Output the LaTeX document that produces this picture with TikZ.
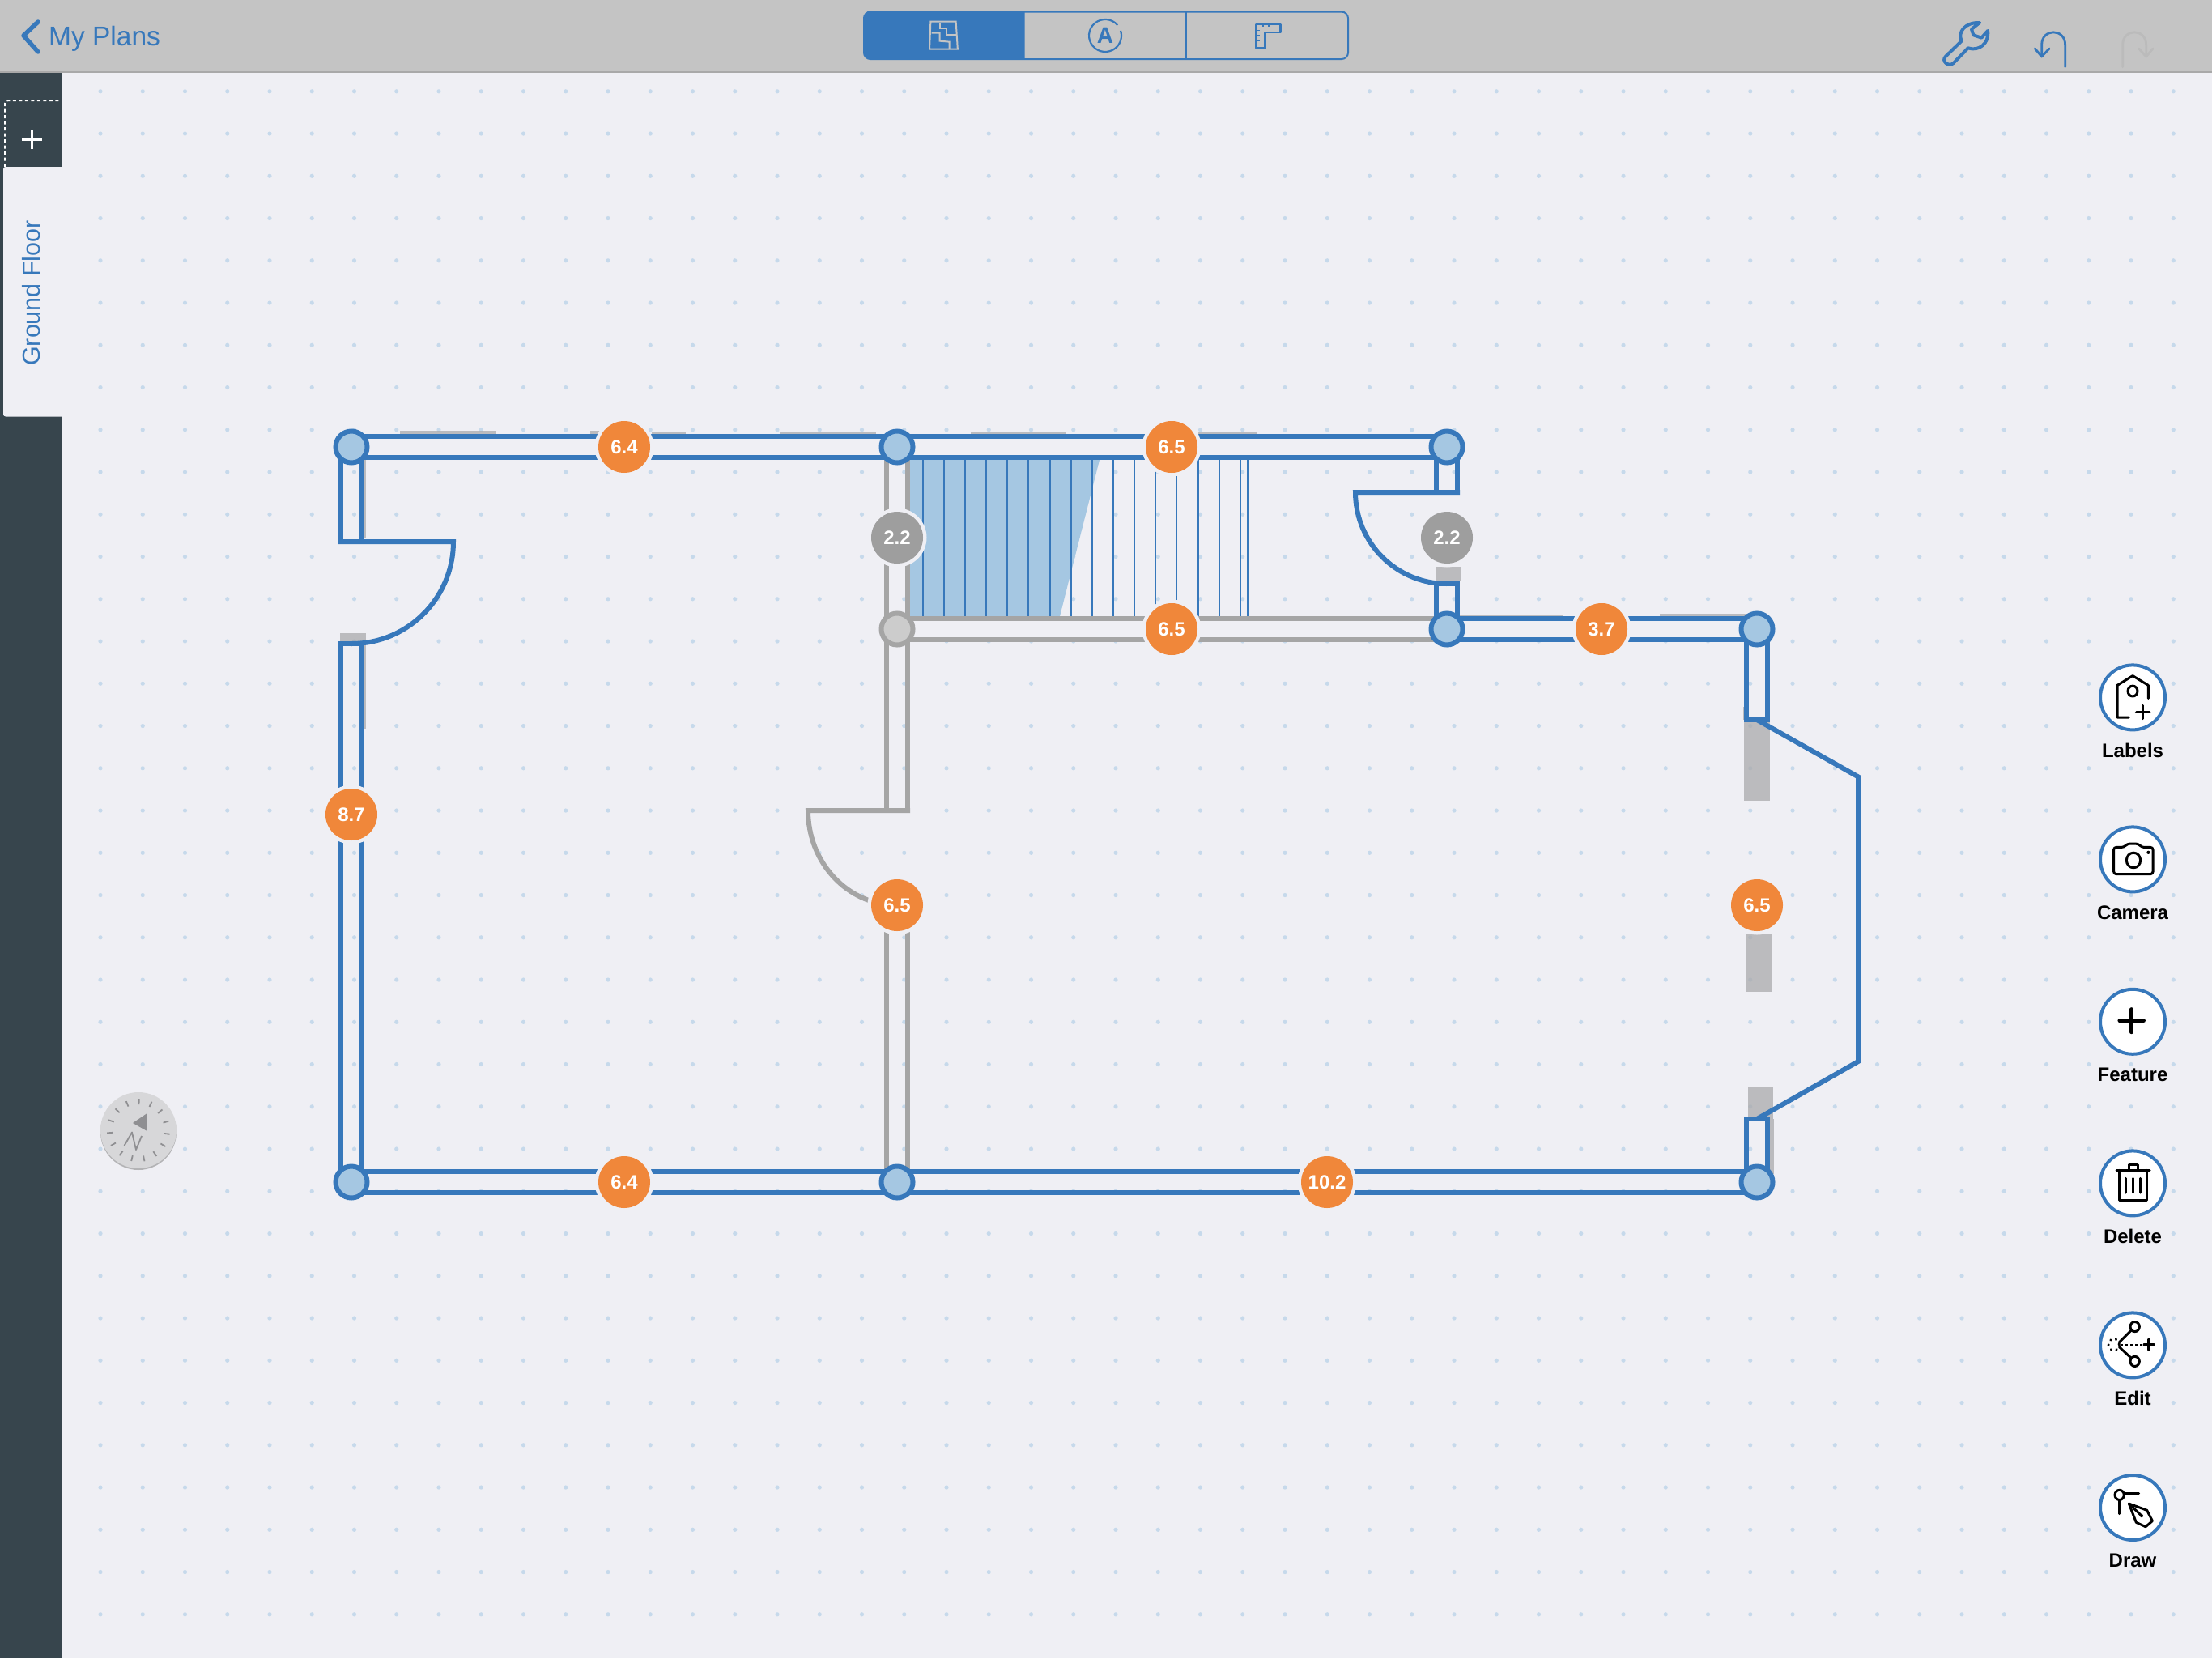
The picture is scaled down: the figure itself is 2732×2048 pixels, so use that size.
\documentclass[tikz,border=0pt]{standalone}
\usepackage{fontspec}
\setmainfont{Liberation Sans}
\definecolor{bgc}{HTML}{EFEFF4}
\definecolor{barc}{HTML}{C4C4C4}
\definecolor{barline}{HTML}{A9A9A9}
\definecolor{sidec}{HTML}{37454D}
\definecolor{dotc}{HTML}{C6D9EB}
\definecolor{bluec}{HTML}{3778BB}
\definecolor{lblue}{HTML}{A5C7E2}
\definecolor{wallg}{HTML}{A5A5A5}
\definecolor{jointg}{HTML}{CCCCCC}
\definecolor{blockg}{HTML}{AAAAAC}
\definecolor{orangec}{HTML}{F0873A}
\definecolor{badgeg}{HTML}{9E9E9E}
\definecolor{redog}{HTML}{BBBBBB}
\definecolor{compc}{HTML}{D7D7D9}
\definecolor{compd}{HTML}{8F8F92}
\newcommand{\hwall}[3]{\draw[#3] ([yshift=13pt]#1) -- ([yshift=13pt]#2); \draw[#3] ([yshift=-13pt]#1) -- ([yshift=-13pt]#2);}
\newcommand{\vwall}[3]{\draw[#3] ([xshift=-13pt]#1) -- ([xshift=-13pt]#2); \draw[#3] ([xshift=13pt]#1) -- ([xshift=13pt]#2);}
\tikzset{
  x=1pt,y=-1pt,
  wallblue/.style={draw=bluec,line width=6pt,line join=miter},
  wallgrey/.style={draw=wallg,line width=6pt,line join=miter},
  stairline/.style={draw=bluec,line width=2pt},
  block/.style={fill=blockg,fill opacity=.75,draw=none},
  jointblue/.style={circle,draw=bluec,fill=lblue,line width=6pt,minimum size=39pt,inner sep=0pt},
  jointgrey/.style={circle,draw=wallg,fill=jointg,line width=6pt,minimum size=39pt,inner sep=0pt},
  badgebase/.style={circle,minimum size=64pt,inner sep=0pt,text=white,font=\fontsize{24}{28}\selectfont\bfseries},
  halo/.style={fill=bgc,draw=none},
  toolbtn/.style={circle,draw=bluec,fill=white,line width=4pt,minimum size=80pt,inner sep=0pt},
  toollabel/.style={text=black,font=\fontsize{24}{28}\selectfont\bfseries,inner sep=0pt},
  iconline/.style={draw=black,line width=3pt,line cap=round,line join=round},
  baricon/.style={draw=bluec,line width=2.8pt,line cap=round,line join=round},
}
\newcommand{\badge}[4]{\fill[halo] (#2) circle[radius=36.5pt]; \node[badgebase,fill=#4] (#1) at (#2) {#3};}
\begin{document}
\begin{tikzpicture}
\useasboundingbox (0,0) rectangle (2732,2048);
\fill[bgc] (0,0) rectangle (2732,2048);
% dot grid
\foreach \i in {0,...,49}{\foreach \j in {0,...,36}{
  \fill[dotc] ({124+52.25*\i},{112.8+52.25*\j}) circle[radius=2.6pt];
}}
% named points
\coordinate (ptl) at (434,552);
\coordinate (ptm) at (1108,552);
\coordinate (ptr) at (1787,552);
\coordinate (pml) at (1108,777);
\coordinate (pmm) at (1787,777);
\coordinate (pmr) at (2170,777);
\coordinate (pbl) at (434,1460);
\coordinate (pbm) at (1108,1460);
\coordinate (pbr) at (2170,1460);
\coordinate (dla) at (434,669);
\coordinate (dlb) at (434,795);
\coordinate (dma) at (1108,1001);
\coordinate (dmb) at (1108,1118);
\coordinate (dra) at (1787,608);
\coordinate (drb) at (1787,721);
\coordinate (bya) at (2170,889);
\coordinate (byb) at (2170,1382);
% grey offset traces
\fill[block] (494,532) rectangle (612,536);
\fill[block] (729,532) rectangle (760,536);
\fill[block] (805,533) rectangle (847,536);
\fill[block] (963,534) rectangle (1082,536);
\fill[block] (1199,534) rectangle (1317,536);
\fill[block] (1480,534) rectangle (1552,536);
\fill[block] (1800,759) rectangle (1931,761);
\fill[block] (2050,758) rectangle (2160,761);
\fill[block] (449,568) rectangle (452,664);
\fill[block] (449,795) rectangle (452,900);
\fill[block] (420,782) rectangle (452,795);
\fill[block] (1773,700) rectangle (1804,718);
\fill[block] (2153,873) rectangle (2155,889);
\fill[block] (2154,889) rectangle (2186,989);
\fill[block] (2157,1153) rectangle (2188,1225);
\fill[block] (2159,1343) rectangle (2190,1382);
\fill[block] (2186,1382) rectangle (2191,1450);
% stairs
\fill[lblue] (1121,568) -- (1358,568) -- (1309,761) -- (1121,761) -- cycle;
\foreach \sx in {1140,1166,1192,1218,1244,1270.3,1296.7,1322.7,1349,1375,1401,1427,1453,1479.7,1505.7,1531.7,1541}{
  \draw[stairline] (\sx,568) -- (\sx,761);
}
% walls
\hwall{ptl}{ptm}{wallblue}
\hwall{ptm}{ptr}{wallblue}
\hwall{pml}{pmm}{wallgrey}
\hwall{pmm}{pmr}{wallblue}
\hwall{pbl}{pbm}{wallblue}
\hwall{pbm}{pbr}{wallblue}
\vwall{ptl}{dla}{wallblue}
\vwall{dlb}{pbl}{wallblue}
\vwall{ptm}{dma}{wallgrey}
\vwall{dmb}{pbm}{wallgrey}
\vwall{ptr}{dra}{wallblue}
\vwall{drb}{pmm}{wallblue}
\vwall{pmr}{bya}{wallblue}
\vwall{byb}{pbr}{wallblue}
% doors
\draw[wallblue] (418,669) -- (560,669) .. controls (560,738.6) and (503.6,795) .. (dlb);
\draw[wallblue] (418,795) -- (450,795);
\draw[wallgrey] (1124,1001) -- (998,1001) .. controls (998,1065.6) and (1047,1118) .. (dmb);
\draw[wallblue] (1803,608) -- (1674,608) .. controls (1674,670.4) and (1724.6,721) .. (drb);
\draw[wallblue] (1771,721) -- (1803,721);
% bay window
\draw[wallblue] (2154,889) -- (2186,889);
\draw[wallblue] (2154,1382) -- (2186,1382);
\draw[wallblue] (bya) -- (2295,959.4) -- (2295,1311) -- (byb);
% joints
\node[jointblue] (jtl) at (ptl) {};
\node[jointblue] (jtm) at (ptm) {};
\node[jointblue] (jtr) at (ptr) {};
\node[jointgrey] (jml) at (pml) {};
\node[jointblue] (jmm) at (pmm) {};
\node[jointblue] (jmr) at (pmr) {};
\node[jointblue] (jbl) at (pbl) {};
\node[jointblue] (jbm) at (pbm) {};
\node[jointblue] (jbr) at (pbr) {};
% badges
\badge{b1}{771,552}{6.4}{orangec}
\badge{b2}{1447,552}{6.5}{orangec}
\badge{b3}{1108,664}{2.2}{badgeg}
\badge{b4}{1447,777}{6.5}{orangec}
\badge{b5}{1787,664}{2.2}{badgeg}
\badge{b6}{1978,777}{3.7}{orangec}
\badge{b7}{434,1006}{8.7}{orangec}
\badge{b8}{1108,1118}{6.5}{orangec}
\badge{b9}{2170,1118}{6.5}{orangec}
\badge{b10}{771,1460}{6.4}{orangec}
\badge{b11}{1639,1460}{10.2}{orangec}
% sidebar
\fill[sidec] (0,89) rectangle (76,2048);
\fill[bgc,rounded corners=3pt] (4,206) rectangle (90,514.5);
\fill[bgc] (76,200) rectangle (90,520);
\draw[white,line width=2pt,dash pattern=on 4pt off 3.5pt,rounded corners=4pt] (6,206) -- (6,124) -- (74,124);
\draw[white,line width=3pt] (27,172) -- (52,172);
\draw[white,line width=3pt] (39,160) -- (39,184);
\node[rotate=90,text=bluec,inner sep=0pt,font=\fontsize{30.5}{34}\selectfont] (tabtext) at (39,362) {Ground Floor};
% top bar
\fill[barc] (0,0) rectangle (2732,88);
\draw[barline,line width=1.5pt] (0,89) -- (2732,89);
\draw[bluec,line width=5.5pt,line cap=round,line join=round] (47,27) -- (29,44) -- (47,64);
\node[anchor=base west,text=bluec,inner sep=0pt,font=\fontsize{33.5}{36}\selectfont] (back) at (60,56) {My Plans};
% segmented control
\begin{scope}
\clip (1066,0) rectangle (1265.5,89);
\fill[bluec,rounded corners=8pt] (1067,14.5) rectangle (1665,73.5);
\end{scope}
\draw[bluec,line width=2pt,rounded corners=8pt] (1067,14.5) rectangle (1665,73);
\draw[bluec,line width=2pt] (1464.5,14) -- (1464.5,73);
\begin{scope}[shift={(1040,0)},x=.4464pt,y=-.3333pt]
\draw[draw=barc,line width=2pt] (245,80) -- (315,80) -- (320,182) -- (242,182) -- cycle;
\draw[draw=barc,line width=2pt] (270,85) -- (270,105) -- (290,105) -- (290,130) -- (316,130);
\draw[draw=barc,line width=2pt] (248,122) -- (270,122) -- (270,152) -- (297,155) -- (297,182);
\draw[baricon] (1145,90) -- (1213,90) -- (1213,120) -- (1170,120) -- (1170,178) -- (1145,178) -- cycle;
\foreach \tx in {1165,1180,1195}{\draw[bluec,line width=1.6pt] (\tx,90) -- (\tx,100);}
\foreach \ty in {112,132,150}{\draw[bluec,line width=1.6pt] (1145,\ty) -- (1156,\ty);}
\end{scope}
\coordinate (acirc) at (1365,44);
\draw[bluec,line width=2.2pt] (acirc) ++(40:20pt) arc[start angle=40,end angle=378,radius=20pt];
\node[text=bluec,inner sep=0pt,font=\fontsize{28}{30}\selectfont\bfseries] (atext) at (1365,44) {A};
% wrench undo redo
\begin{scope}[shift={(2340,0)},x=.3333pt,y=-.3333pt]
\draw[baricon,line width=4pt] (190,208) -- (248,152) .. controls (232,118) and (262,82) .. (315,84) -- (285,108) -- (292,130) -- (322,140) -- (345,114) .. controls (352,160) and (312,192) .. (272,178) -- (218,234) .. controls (200,250) and (170,226) .. (190,208) -- cycle;
\draw[baricon] (632,248) -- (632,166) .. controls (632,104) and (545,104) .. (545,166) -- (545,210);
\draw[baricon] (520,180) -- (545,210) -- (573,180);
\draw[baricon,draw=redog] (845,248) -- (845,166) .. controls (845,104) and (932,104) .. (932,166) -- (932,210);
\draw[baricon,draw=redog] (905,180) -- (932,210) -- (957,180);
\end{scope}
% compass
\fill[black!45,opacity=.6] (171,1398) circle[radius=47pt];
\node[circle,fill=compc,minimum size=94pt,inner sep=0pt] (compass) at (171,1396) {};
\foreach \n in {0,...,14}{
  \draw[compd,line width=1.8pt] (compass.center) ++({89-24*\n}:32pt) -- ++({89-24*\n}:7pt);
}
\fill[compd] (164,1387) -- (181.7,1375) -- (181.7,1397) -- cycle;
\draw[compd,line width=1.8pt,line join=round] (153.5,1415) -- (163,1398.5) -- (168,1420) -- (175,1403);
% tool buttons
\node[toolbtn] (bLabels) at (2634,861.4) {};
\node[toollabel] (tLabels) at (2634,927) {Labels};
\node[toolbtn] (bCamera) at (2634,1061.4) {};
\node[toollabel] (tCamera) at (2634,1127) {Camera};
\node[toolbtn] (bFeature) at (2634,1261.8) {};
\node[toollabel] (tFeature) at (2634,1327) {Feature};
\node[toolbtn] (bDelete) at (2634,1461.4) {};
\node[toollabel] (tDelete) at (2634,1527) {Delete};
\node[toolbtn] (bEdit) at (2634,1661.4) {};
\node[toollabel] (tEdit) at (2634,1727) {Edit};
\node[toolbtn] (bDraw) at (2634,1862) {};
\node[toollabel] (tDraw) at (2634,1927) {Draw};
\begin{scope}[shift={(2540,800)},x=.3333pt,y=-.3571pt]
% labels
\draw[iconline] (268,241) -- (225,241) -- (225,130) -- (282,97) -- (340,130) -- (340,175);
\draw[iconline] (282,150) circle[radius=18];
\draw[iconline,line width=3.4pt] (296,222) -- (344,222);
\draw[iconline,line width=3.4pt] (320,200) -- (320,245);
% camera
\draw[iconline,rounded corners=3pt] (212,690) -- (250,690) -- (262,678) -- (303,678) -- (315,690) -- (357,690) -- (357,783) -- (212,783) -- cycle;
\draw[iconline] (285,735) circle[radius=26];
\fill[black] (340,708) circle[radius=6];
% feature
\draw[iconline,line width=4.4pt] (233,1290) -- (323,1290);
\draw[iconline,line width=4.4pt] (278,1250) -- (278,1330);
\end{scope}
\begin{scope}[shift={(2540,1400)},x=.3333pt,y=-.3571pt]
% delete
\draw[iconline] (222,127) -- (345,127);
\draw[iconline] (267,127) -- (267,108) -- (302,108) -- (302,127);
\draw[iconline] (232,127) -- (232,230) -- (335,230) -- (335,127);
\draw[iconline] (257,155) -- (257,205);
\draw[iconline] (283,155) -- (283,205);
\draw[iconline] (310,155) -- (310,205);
% edit
\draw[iconline] (290,668) circle[radius=17];
\draw[iconline] (290,788) circle[radius=17];
\draw[iconline] (232,722) -- (277,680);
\draw[iconline] (232,738) -- (277,777);
\draw[iconline,line cap=butt,line width=2.4pt,dash pattern=on 3pt off 3pt] (238,730) -- (322,730);
\draw[iconline,line width=3.6pt] (325,730) -- (360,730);
\draw[iconline,line width=3.6pt] (342,713) -- (342,747);
\draw[iconline,dash pattern=on .5pt off 6.5pt] (212,730) circle[radius=20];
% draw
\draw[iconline] (233,1250) circle[radius=17];
\draw[iconline] (252,1245) -- (305,1245);
\draw[iconline] (233,1268) -- (233,1315);
\draw[iconline,fill=white] (268,1280) -- (335,1303) -- (355,1340) -- (330,1360) -- (295,1345) -- cycle;
\draw[iconline] (268,1280) -- (315,1322);
\fill[black] (315,1322) circle[radius=6];
\end{scope}
\end{tikzpicture}
\end{document}
